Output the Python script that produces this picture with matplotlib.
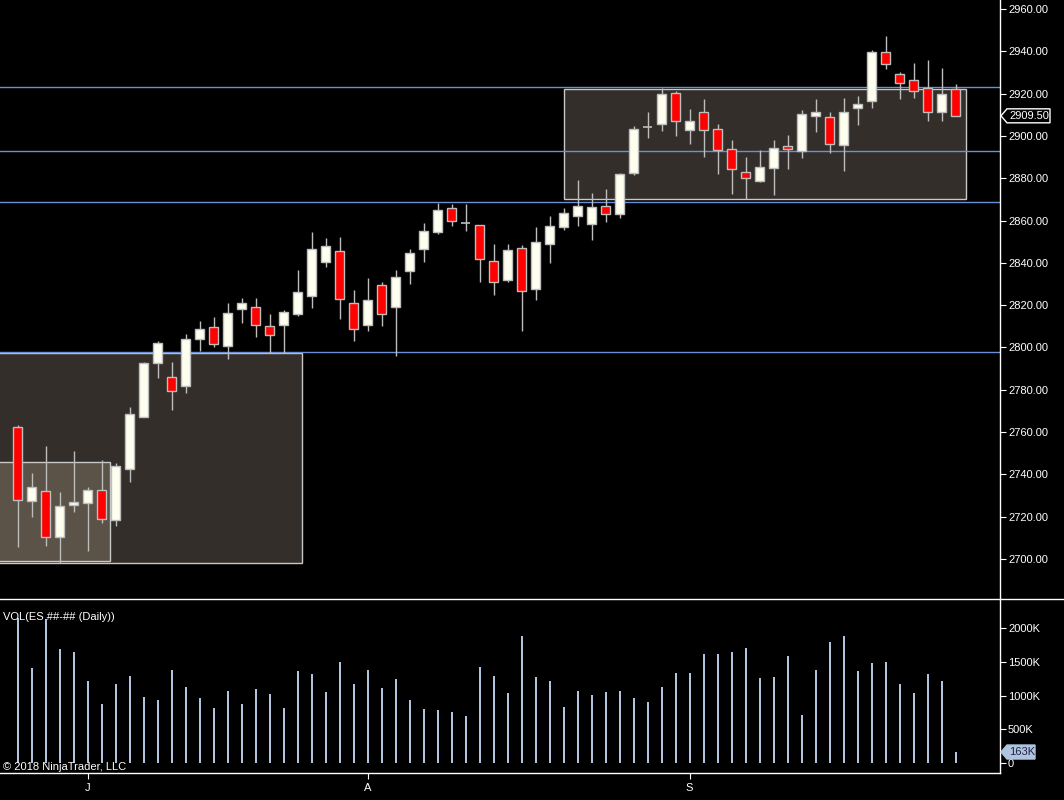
import matplotlib
matplotlib.use("Agg")
import matplotlib.pyplot as plt
from matplotlib.patches import Rectangle, Polygon
from matplotlib.lines import Line2D
from matplotlib.transforms import IdentityTransform
from matplotlib.ticker import FuncFormatter

plt.rcParams['font.family'] = ['Liberation Sans', 'DejaVu Sans']

# ---------------- data ----------------
opens = [2762.25, 2727.25, 2732.0, 2710.25, 2725.5, 2726.25, 2732.5, 2718.25, 2742.5, 2767.25,
         2792.5, 2786.0, 2782.0, 2804.0, 2809.75, 2800.75, 2818.0, 2819.25, 2810.25, 2810.5,
         2815.75, 2824.25, 2840.25, 2845.5, 2821.25, 2810.5, 2829.5, 2819.0, 2836.0, 2846.5,
         2854.5, 2865.75, 2858.75, 2857.75, 2840.75, 2831.75, 2847.0, 2827.5, 2848.75, 2856.75,
         2862.0, 2858.25, 2866.75, 2863.25, 2882.5, 2904.0, 2905.5, 2920.5, 2903.0, 2911.5,
         2903.5, 2893.75, 2882.75, 2878.5, 2884.75, 2895.0, 2892.75, 2909.25, 2908.75, 2895.5,
         2913.0, 2916.5, 2939.5, 2929.5, 2926.25, 2922.5, 2911.5, 2922.0]
highs = [2763.25, 2740.5, 2753.5, 2731.5, 2751.0, 2734.0, 2746.75, 2745.25, 2771.75, 2793.0,
         2803.0, 2793.0, 2806.5, 2812.5, 2814.25, 2821.0, 2823.25, 2823.25, 2815.75, 2817.75,
         2836.5, 2854.5, 2851.75, 2852.25, 2827.25, 2832.75, 2831.0, 2836.5, 2846.5, 2858.75,
         2868.5, 2867.75, 2867.75, 2857.75, 2849.0, 2849.0, 2848.25, 2856.75, 2862.0, 2865.75,
         2879.0, 2873.25, 2875.0, 2882.25, 2904.5, 2911.25, 2922.75, 2921.25, 2912.75, 2917.5,
         2905.5, 2898.0, 2890.0, 2893.25, 2898.0, 2900.5, 2912.25, 2917.5, 2911.25, 2918.0,
         2919.0, 2940.5, 2947.25, 2930.0, 2934.5, 2936.0, 2932.0, 2924.75]
lows = [2705.75, 2720.0, 2706.0, 2698.0, 2722.0, 2704.0, 2717.25, 2715.75, 2736.5, 2767.0,
        2785.75, 2770.5, 2778.5, 2798.5, 2800.0, 2794.75, 2811.75, 2805.0, 2797.25, 2797.25,
        2815.0, 2818.75, 2838.25, 2813.5, 2803.25, 2808.0, 2810.25, 2796.0, 2830.0, 2840.25,
        2853.5, 2857.5, 2855.25, 2831.0, 2825.0, 2830.75, 2808.0, 2822.5, 2840.0, 2855.5,
        2857.25, 2851.0, 2859.5, 2861.25, 2881.75, 2899.25, 2902.5, 2900.0, 2896.25, 2890.25,
        2882.0, 2872.75, 2870.25, 2878.0, 2872.25, 2884.5, 2889.75, 2902.0, 2892.0, 2883.5,
        2905.25, 2913.0, 2931.75, 2917.5, 2918.0, 2907.25, 2907.25, 2909.5]
closes = [2727.75, 2734.0, 2710.25, 2725.0, 2726.75, 2732.5, 2718.75, 2743.75, 2768.5, 2792.5,
          2802.0, 2779.25, 2804.0, 2808.5, 2801.5, 2816.5, 2821.25, 2810.5, 2805.75, 2817.0,
          2826.0, 2846.5, 2847.75, 2822.75, 2808.5, 2822.25, 2815.75, 2833.5, 2844.5, 2855.0,
          2864.75, 2860.0, 2858.75, 2841.75, 2830.75, 2846.0, 2826.5, 2849.75, 2857.25, 2863.5,
          2866.75, 2866.25, 2863.0, 2882.0, 2903.5, 2904.0, 2919.75, 2907.0, 2907.0, 2903.0,
          2893.25, 2884.25, 2880.0, 2885.25, 2894.5, 2893.75, 2910.25, 2911.5, 2896.0, 2911.5,
          2915.0, 2939.5, 2934.0, 2925.25, 2921.0, 2911.5, 2920.0, 2909.5]
volumes_k = [2150, 1410, 2140, 1690, 1645, 1220, 875, 1175, 1290, 985,
             940, 1385, 1130, 970, 820, 1075, 880, 1105, 1030, 820,
             1370, 1325, 1060, 1505, 1175, 1385, 1115, 1250, 940, 805,
             790, 760, 700, 1430, 1295, 1045, 1890, 1280, 1220, 835,
             1075, 1015, 1060, 1075, 970, 910, 1130, 1340, 1340, 1620,
             1620, 1650, 1710, 1265, 1280, 1590, 715, 1385, 1800, 1890,
             1370, 1490, 1505, 1175, 1045, 1325, 1220, 163]

month_labels = ['J', 'A', 'S']
month_first_bar = [5, 25, 48]

price_ticks = list(range(2700, 2961, 20))
volume_ticks_k = [0, 500, 1000, 1500, 2000]

# drawn objects (bar-index span, price span)
zone_x0 = [-3, -3, 39.05]
zone_x1 = [20.34, 6.62, 67.72]
zone_lo = [2697.95, 2698.9, 2870.0]
zone_hi = [2797.3, 2745.7, 2922.0]
zone_fill = ['#332e29', '#5b5248', '#332e29']
level_lines = [2923.0, 2892.7, 2868.6, 2797.7]

# ---------------- figure ----------------
W, H = 1064, 800
fig = plt.figure(figsize=(W / 100, H / 100), dpi=100, facecolor='black')
right = 1000 / W
ax = fig.add_axes([0, 1 - 599 / H, right, 599 / H], facecolor='black')
axv = fig.add_axes([0, 1 - 773 / H, right, (773 - 599) / H], facecolor='black')

n = len(opens)
xs = list(range(n))
xlim = (-1.257, 70.17)
for a in (ax, axv):
    a.set_xlim(*xlim)
    for s in a.spines.values():
        s.set_visible(False)
    a.spines['right'].set_visible(True)
    a.spines['right'].set_color('white')
    a.spines['right'].set_linewidth(1)
    a.yaxis.tick_right()
    a.tick_params(axis='y', colors='white', length=4.3, width=0.8, pad=1.5, labelsize=8)
axv.spines['bottom'].set_visible(True)
axv.spines['bottom'].set_color('white')
axv.spines['bottom'].set_linewidth(1)

ax.set_ylim(2681.1, 2964.25)
axv.set_ylim(-148.5, 2435)

# zones
for x0, x1, lo, hi, fc in zip(zone_x0, zone_x1, zone_lo, zone_hi, zone_fill):
    ax.add_patch(Rectangle((x0, lo), x1 - x0, hi - lo, facecolor=fc,
                           edgecolor='#c8c8c8', linewidth=1.0, zorder=1))
for lv in level_lines:
    ax.axhline(lv, color='#6b8fd8', linewidth=1, zorder=2)

# candles
outline = '#bdbdbd'
ax.vlines(xs, lows, highs, color=outline, linewidth=1, zorder=3)
for i in xs:
    o, c = opens[i], closes[i]
    if o == c:
        ax.hlines(o, i - 0.32, i + 0.32, color=outline, linewidth=1.2, zorder=4)
    else:
        fc = '#fffff0' if c > o else '#ff0000'
        ax.bar(i, abs(c - o), bottom=min(o, c), width=0.6, color=fc,
               edgecolor=outline, linewidth=1, zorder=4)

ax.set_yticks(price_ticks)
ax.yaxis.set_major_formatter(FuncFormatter(lambda v, p: f"{v:.2f}"))
ax.set_xticks([])

# volume
axv.bar(xs, volumes_k, width=0.15, color='#b0c4de', zorder=3)
axv.set_yticks(volume_ticks_k)
axv.yaxis.set_major_formatter(FuncFormatter(lambda v, p: "0" if v == 0 else f"{int(v)}K"))
axv.set_xticks(month_first_bar)
axv.set_xticklabels(month_labels)
axv.tick_params(axis='x', colors='white', length=4.3, width=0.8, pad=3, labelsize=8)

# separator line full width
fig.add_artist(Line2D([0, 1], [1 - 599 / H] * 2, transform=fig.transFigure,
                      color='white', linewidth=1))

fig.text(3 / W, 1 - 617 / H, 'VOL(ES ##-## (Daily))', color='white', fontsize=8, va='center')
fig.text(3 / W, 1 - 767 / H, '\u00a9 2018 NinjaTrader, LLC', color='white', fontsize=8, va='center')


def tag(a, yval, text, fc, ec, tc, width):
    xd, yd = a.transData.transform((a.get_xlim()[1], yval))
    h = 7
    pts = [(xd + 1, yd), (xd + 7, yd + h), (xd + width, yd + h),
           (xd + width, yd - h), (xd + 7, yd - h)]
    fig.add_artist(Polygon(pts, closed=True, facecolor=fc, edgecolor=ec,
                           linewidth=1, transform=IdentityTransform(), zorder=10))
    fig.text(xd + 9, yd, text, color=tc, fontsize=8, va='center', ha='left',
             transform=IdentityTransform(), zorder=11)


tag(ax, closes[-1], f"{closes[-1]:.2f}", 'black', 'white', 'white', 50)
tag(axv, volumes_k[-1], f"{volumes_k[-1]}K", '#b0c4de', '#b0c4de', '#22224a', 35)

fig.savefig('out.png', dpi=100, facecolor='black')
